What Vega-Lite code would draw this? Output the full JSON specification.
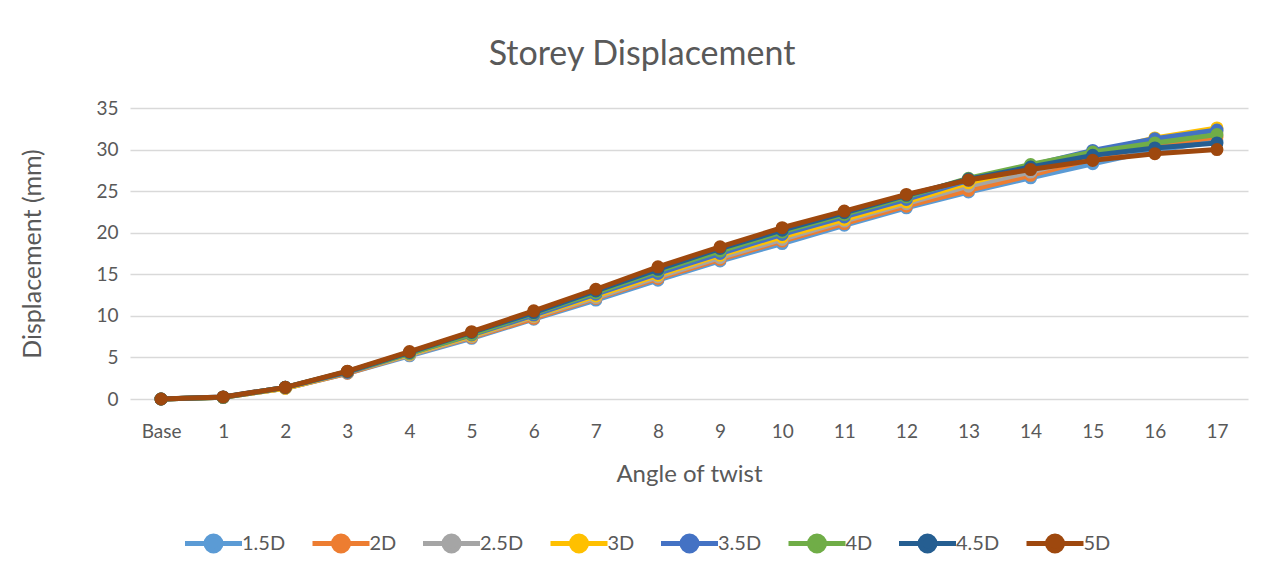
{
  "$schema": "https://vega.github.io/schema/vega-lite/v6.json",
  "width": 1118,
  "height": 291,
  "autosize": {"type": "none"},
  "padding": {"left": 130, "top": 108, "right": 26, "bottom": 174},
  "background": "white",
  "config": {
    "view": {"stroke": null},
    "font": "Lato",
    "legend": {"labelFont": "Lato"}
  },
  "title": {
    "text": "Storey Displacement",
    "fontSize": 34,
    "font": "Lato",
    "fontWeight": "normal",
    "color": "#595959",
    "anchor": "middle",
    "offset": 27,
    "dx": -47
  },
  "data": {
    "values": [
      {"x": "Base", "s": "1.5D", "v": 0}, {"x": "1", "s": "1.5D", "v": 0.2}, {"x": "2", "s": "1.5D", "v": 1.3}, {"x": "3", "s": "1.5D", "v": 3.1}, {"x": "4", "s": "1.5D", "v": 5.2}, {"x": "5", "s": "1.5D", "v": 7.3}, {"x": "6", "s": "1.5D", "v": 9.6}, {"x": "7", "s": "1.5D", "v": 11.9}, {"x": "8", "s": "1.5D", "v": 14.3}, {"x": "9", "s": "1.5D", "v": 16.6}, {"x": "10", "s": "1.5D", "v": 18.7}, {"x": "11", "s": "1.5D", "v": 20.9}, {"x": "12", "s": "1.5D", "v": 23.0}, {"x": "13", "s": "1.5D", "v": 24.9}, {"x": "14", "s": "1.5D", "v": 26.6}, {"x": "15", "s": "1.5D", "v": 28.3}, {"x": "16", "s": "1.5D", "v": 29.9}, {"x": "17", "s": "1.5D", "v": 31.0},
      {"x": "Base", "s": "2D", "v": 0}, {"x": "1", "s": "2D", "v": 0.2}, {"x": "2", "s": "2D", "v": 1.3}, {"x": "3", "s": "2D", "v": 3.1}, {"x": "4", "s": "2D", "v": 5.3}, {"x": "5", "s": "2D", "v": 7.4}, {"x": "6", "s": "2D", "v": 9.7}, {"x": "7", "s": "2D", "v": 12.1}, {"x": "8", "s": "2D", "v": 14.5}, {"x": "9", "s": "2D", "v": 16.8}, {"x": "10", "s": "2D", "v": 19.0}, {"x": "11", "s": "2D", "v": 21.1}, {"x": "12", "s": "2D", "v": 23.2}, {"x": "13", "s": "2D", "v": 25.1}, {"x": "14", "s": "2D", "v": 26.9}, {"x": "15", "s": "2D", "v": 28.9}, {"x": "16", "s": "2D", "v": 30.5}, {"x": "17", "s": "2D", "v": 31.5},
      {"x": "Base", "s": "2.5D", "v": 0}, {"x": "1", "s": "2.5D", "v": 0.2}, {"x": "2", "s": "2.5D", "v": 1.3}, {"x": "3", "s": "2.5D", "v": 3.2}, {"x": "4", "s": "2.5D", "v": 5.3}, {"x": "5", "s": "2.5D", "v": 7.5}, {"x": "6", "s": "2.5D", "v": 9.9}, {"x": "7", "s": "2.5D", "v": 12.2}, {"x": "8", "s": "2.5D", "v": 14.7}, {"x": "9", "s": "2.5D", "v": 17.0}, {"x": "10", "s": "2.5D", "v": 19.2}, {"x": "11", "s": "2.5D", "v": 21.4}, {"x": "12", "s": "2.5D", "v": 23.5}, {"x": "13", "s": "2.5D", "v": 25.6}, {"x": "14", "s": "2.5D", "v": 27.3}, {"x": "15", "s": "2.5D", "v": 29.2}, {"x": "16", "s": "2.5D", "v": 31.0}, {"x": "17", "s": "2.5D", "v": 32.1},
      {"x": "Base", "s": "3D", "v": 0}, {"x": "1", "s": "3D", "v": 0.2}, {"x": "2", "s": "3D", "v": 1.3}, {"x": "3", "s": "3D", "v": 3.2}, {"x": "4", "s": "3D", "v": 5.4}, {"x": "5", "s": "3D", "v": 7.6}, {"x": "6", "s": "3D", "v": 10.0}, {"x": "7", "s": "3D", "v": 12.4}, {"x": "8", "s": "3D", "v": 14.9}, {"x": "9", "s": "3D", "v": 17.3}, {"x": "10", "s": "3D", "v": 19.5}, {"x": "11", "s": "3D", "v": 21.6}, {"x": "12", "s": "3D", "v": 23.7}, {"x": "13", "s": "3D", "v": 26.0}, {"x": "14", "s": "3D", "v": 27.8}, {"x": "15", "s": "3D", "v": 29.6}, {"x": "16", "s": "3D", "v": 31.4}, {"x": "17", "s": "3D", "v": 32.6},
      {"x": "Base", "s": "3.5D", "v": 0}, {"x": "1", "s": "3.5D", "v": 0.2}, {"x": "2", "s": "3.5D", "v": 1.4}, {"x": "3", "s": "3.5D", "v": 3.2}, {"x": "4", "s": "3.5D", "v": 5.5}, {"x": "5", "s": "3.5D", "v": 7.7}, {"x": "6", "s": "3.5D", "v": 10.1}, {"x": "7", "s": "3.5D", "v": 12.6}, {"x": "8", "s": "3.5D", "v": 15.1}, {"x": "9", "s": "3.5D", "v": 17.5}, {"x": "10", "s": "3.5D", "v": 19.8}, {"x": "11", "s": "3.5D", "v": 21.9}, {"x": "12", "s": "3.5D", "v": 24.0}, {"x": "13", "s": "3.5D", "v": 26.3}, {"x": "14", "s": "3.5D", "v": 28.1}, {"x": "15", "s": "3.5D", "v": 29.9}, {"x": "16", "s": "3.5D", "v": 31.3}, {"x": "17", "s": "3.5D", "v": 32.35},
      {"x": "Base", "s": "4D", "v": 0}, {"x": "1", "s": "4D", "v": 0.2}, {"x": "2", "s": "4D", "v": 1.4}, {"x": "3", "s": "4D", "v": 3.3}, {"x": "4", "s": "4D", "v": 5.5}, {"x": "5", "s": "4D", "v": 7.8}, {"x": "6", "s": "4D", "v": 10.3}, {"x": "7", "s": "4D", "v": 12.8}, {"x": "8", "s": "4D", "v": 15.4}, {"x": "9", "s": "4D", "v": 17.8}, {"x": "10", "s": "4D", "v": 20.1}, {"x": "11", "s": "4D", "v": 22.2}, {"x": "12", "s": "4D", "v": 24.3}, {"x": "13", "s": "4D", "v": 26.55}, {"x": "14", "s": "4D", "v": 28.2}, {"x": "15", "s": "4D", "v": 29.7}, {"x": "16", "s": "4D", "v": 30.8}, {"x": "17", "s": "4D", "v": 31.8},
      {"x": "Base", "s": "4.5D", "v": 0}, {"x": "1", "s": "4.5D", "v": 0.25}, {"x": "2", "s": "4.5D", "v": 1.4}, {"x": "3", "s": "4.5D", "v": 3.3}, {"x": "4", "s": "4.5D", "v": 5.6}, {"x": "5", "s": "4.5D", "v": 8.0}, {"x": "6", "s": "4.5D", "v": 10.4}, {"x": "7", "s": "4.5D", "v": 13.0}, {"x": "8", "s": "4.5D", "v": 15.6}, {"x": "9", "s": "4.5D", "v": 18.1}, {"x": "10", "s": "4.5D", "v": 20.3}, {"x": "11", "s": "4.5D", "v": 22.4}, {"x": "12", "s": "4.5D", "v": 24.5}, {"x": "13", "s": "4.5D", "v": 26.45}, {"x": "14", "s": "4.5D", "v": 27.9}, {"x": "15", "s": "4.5D", "v": 29.3}, {"x": "16", "s": "4.5D", "v": 30.2}, {"x": "17", "s": "4.5D", "v": 30.8},
      {"x": "Base", "s": "5D", "v": 0}, {"x": "1", "s": "5D", "v": 0.25}, {"x": "2", "s": "5D", "v": 1.4}, {"x": "3", "s": "5D", "v": 3.35}, {"x": "4", "s": "5D", "v": 5.7}, {"x": "5", "s": "5D", "v": 8.1}, {"x": "6", "s": "5D", "v": 10.6}, {"x": "7", "s": "5D", "v": 13.2}, {"x": "8", "s": "5D", "v": 15.9}, {"x": "9", "s": "5D", "v": 18.3}, {"x": "10", "s": "5D", "v": 20.6}, {"x": "11", "s": "5D", "v": 22.6}, {"x": "12", "s": "5D", "v": 24.6}, {"x": "13", "s": "5D", "v": 26.35}, {"x": "14", "s": "5D", "v": 27.6}, {"x": "15", "s": "5D", "v": 28.7}, {"x": "16", "s": "5D", "v": 29.5}, {"x": "17", "s": "5D", "v": 30.0}
    ]
  },
  "encoding": {
    "x": {
      "field": "x",
      "type": "ordinal",
      "sort": ["Base", "1", "2", "3", "4", "5", "6", "7", "8", "9", "10", "11", "12", "13", "14", "15", "16", "17"],
      "scale": {"type": "point", "padding": 0.5},
      "axis": {
        "title": "Angle of twist",
        "titleFont": "Lato",
        "titleFontSize": 24,
        "titleFontWeight": "normal",
        "titleColor": "#595959",
        "titlePadding": 21,
        "labelFont": "Lato",
        "labelFontSize": 19,
        "labelColor": "#595959",
        "labelAngle": 0,
        "labelPadding": 23,
        "ticks": false,
        "domain": false,
        "grid": false
      }
    },
    "y": {
      "field": "v",
      "type": "quantitative",
      "scale": {"domain": [0, 35], "nice": false, "zero": true},
      "axis": {
        "title": "Displacement (mm)",
        "titleFont": "Lato",
        "titleFontSize": 25,
        "titleFontWeight": "normal",
        "titleColor": "#595959",
        "titlePadding": 50,
        "values": [0, 5, 10, 15, 20, 25, 30, 35],
        "labelFont": "Lato",
        "labelFontSize": 19,
        "labelColor": "#595959",
        "labelPadding": 12,
        "ticks": false,
        "domain": false,
        "grid": true,
        "gridColor": "#d9d9d9",
        "gridWidth": 1.5
      }
    },
    "color": {
      "field": "s",
      "type": "nominal",
      "scale": {
        "domain": ["1.5D", "2D", "2.5D", "3D", "3.5D", "4D", "4.5D", "5D"],
        "range": ["#5B9BD5", "#ED7D31", "#A5A5A5", "#FFC000", "#4472C4", "#70AD47", "#255E91", "#9E480E"]
      },
      "legend": {
        "title": null,
        "orient": "none",
        "direction": "horizontal",
        "legendX": 66,
        "legendY": 418,
        "symbolType": "M-1.9,0H1.9M-0.5,0A0.5,0.5 0 1,1 0.5,0A0.5,0.5 0 1,1 -0.5,0Z",
        "symbolSize": 900,
        "symbolStrokeWidth": 5,
        "labelFontSize": 20,
        "labelColor": "#595959",
        "labelOffset": 11,
        "columnPadding": 16.5
      }
    }
  },
  "layer": [
    {"transform": [{"filter": "datum.s === '1.5D'"}], "mark": {"type": "line", "strokeWidth": 5}},
    {"transform": [{"filter": "datum.s === '1.5D'"}], "mark": {"type": "point", "filled": true, "size": 170, "opacity": 1}},
    {"transform": [{"filter": "datum.s === '2D'"}], "mark": {"type": "line", "strokeWidth": 5}},
    {"transform": [{"filter": "datum.s === '2D'"}], "mark": {"type": "point", "filled": true, "size": 170, "opacity": 1}},
    {"transform": [{"filter": "datum.s === '2.5D'"}], "mark": {"type": "line", "strokeWidth": 5}},
    {"transform": [{"filter": "datum.s === '2.5D'"}], "mark": {"type": "point", "filled": true, "size": 170, "opacity": 1}},
    {"transform": [{"filter": "datum.s === '3D'"}], "mark": {"type": "line", "strokeWidth": 5}},
    {"transform": [{"filter": "datum.s === '3D'"}], "mark": {"type": "point", "filled": true, "size": 170, "opacity": 1}},
    {"transform": [{"filter": "datum.s === '3.5D'"}], "mark": {"type": "line", "strokeWidth": 5}},
    {"transform": [{"filter": "datum.s === '3.5D'"}], "mark": {"type": "point", "filled": true, "size": 170, "opacity": 1}},
    {"transform": [{"filter": "datum.s === '4D'"}], "mark": {"type": "line", "strokeWidth": 5}},
    {"transform": [{"filter": "datum.s === '4D'"}], "mark": {"type": "point", "filled": true, "size": 170, "opacity": 1}},
    {"transform": [{"filter": "datum.s === '4.5D'"}], "mark": {"type": "line", "strokeWidth": 5}},
    {"transform": [{"filter": "datum.s === '4.5D'"}], "mark": {"type": "point", "filled": true, "size": 170, "opacity": 1}},
    {"transform": [{"filter": "datum.s === '5D'"}], "mark": {"type": "line", "strokeWidth": 5}},
    {"transform": [{"filter": "datum.s === '5D'"}], "mark": {"type": "point", "filled": true, "size": 170, "opacity": 1}}
  ]
}
